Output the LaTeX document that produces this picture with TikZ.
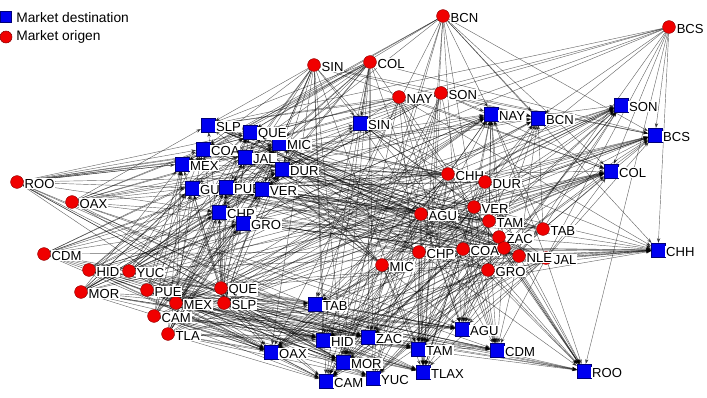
\documentclass[tikz,border=0pt]{standalone}
\usepackage{fontspec}
\setmainfont{Liberation Sans}
\usepackage{tikz}
\usetikzlibrary{arrows.meta,backgrounds}
\definecolor{mktred}{HTML}{F00000}
\definecolor{mktblue}{HTML}{0000F0}

\begin{document}
\begin{tikzpicture}[
  x=0.025cm,y=-0.025cm,
  lbl/.style={fill=white,inner sep=0.6pt,font=\fontsize{9.3}{10}\selectfont,yshift=-1.2pt},
  org/.style={circle,draw=mktred!60!black,line width=0.3pt,fill=mktred,minimum size=0.32cm,inner sep=0pt,label={[lbl]east:#1}},
  orgdot/.style={circle,draw=mktred!60!black,line width=0.3pt,fill=mktred,minimum size=0.32cm,inner sep=0pt},
  dst/.style={draw=mktblue!50!black,line width=0.3pt,fill=mktblue,minimum size=0.34cm,inner sep=0pt,label={[lbl]east:#1}},
  link/.style={draw=black,line width=0.3pt,opacity=0.6,-{Stealth[length=3.5pt,width=2.4pt]}},
  key/.style={font=\fontsize{9.8}{11}\selectfont,anchor=west,inner sep=0pt}
]
\useasboundingbox (0,0) rectangle (707,397);

% legend
\node[draw=mktblue!50!black,fill=mktblue,minimum size=0.28cm,inner sep=0pt] (keydst) at (6,17) {};
\node[key] (keydsttxt) at (16,18) {Market destination};
\node[circle,draw=mktred!60!black,fill=mktred,minimum size=0.3cm,inner sep=0pt] (keyorg) at (6,37) {};
\node[key] (keyorgtxt) at (16,37) {Market origen};

% destinations
\node[dst=MIC] (dMIC) at (279,143) {};
\node[dst=QUE] (dQUE) at (250,132) {};
\node[dst=SLP] (dSLP) at (208,125) {};
\node[dst=COA] (dCOA) at (203,149) {};
\node[dst=JAL] (dJAL) at (245,157) {};
\node[dst=MEX] (dMEX) at (182,164) {};
\node[dst=DUR] (dDUR) at (282,169) {};
\node[dst=GUA] (dGUA) at (192,188) {};
\node[dst=PUE] (dPUE) at (226,187) {};
\node[dst=VER] (dVER) at (262,189) {};
\node[dst=CHP] (dCHP) at (219,212) {};
\node[dst=GRO] (dGRO) at (243,223) {};
\node[dst=SIN] (dSIN) at (360,123) {};
\node[dst=NAY] (dNAY) at (491,114) {};
\node[dst=BCN] (dBCN) at (538,118) {};
\node[dst=SON] (dSON) at (621,105) {};
\node[dst=BCS] (dBCS) at (655,135) {};
\node[dst=COL] (dCOL) at (611,171) {};
\node[dst=CHH] (dCHH) at (658,250) {};
\node[dst=TAB] (dTAB) at (315,304) {};
\node[dst=OAX] (dOAX) at (271,352) {};
\node[dst=HID] (dHID) at (323,340) {};
\node[dst=ZAC] (dZAC) at (368,337) {};
\node[dst=MOR] (dMOR) at (343,362) {};
\node[dst=CAM] (dCAM) at (326,381) {};
\node[dst=YUC] (dYUC) at (373,378) {};
\node[dst=AGU] (dAGU) at (462,329) {};
\node[dst=TAM] (dTAM) at (418,349) {};
\node[dst=CDM] (dCDM) at (497,350) {};
\node[dst=TLAX] (dTLAX) at (423,372) {};
\node[dst=ROO] (dROO) at (584,371) {};

% origins
\node[org=BCN] (oBCN) at (443,16) {};
\node[org=BCS] (oBCS) at (669,27) {};
\node[org=SIN] (oSIN) at (314,65) {};
\node[org=COL] (oCOL) at (370,62) {};
\node[org=NAY] (oNAY) at (399,97) {};
\node[org=SON] (oSON) at (441,93) {};
\node[org=CHH] (oCHH) at (448,174) {};
\node[org=DUR] (oDUR) at (485,182) {};
\node[org=VER] (oVER) at (474,207) {};
\node[org=AGU] (oAGU) at (421,214) {};
\node[org=TAM] (oTAM) at (489,221) {};
\node[org=TAB] (oTAB) at (543,229) {};
\node[org=ZAC] (oZAC) at (499,237) {};
\node[org=COA] (oCOA) at (463,249) {};
\node[orgdot] (oGUA) at (504,248) {};
\node[org=JAL] (oJAL) at (546,258) {};
\node[org=NLE] (oNLE) at (519,256) {};
\node[org=GRO] (oGRO) at (488,270) {};
\node[org=CHP] (oCHP) at (419,252) {};
\node[org=MIC] (oMIC) at (382,265) {};
\node[org=ROO] (oROO) at (17,182) {};
\node[org=OAX] (oOAX) at (72,202) {};
\node[org=CDM] (oCDM) at (44,254) {};
\node[org=HID] (oHID) at (89,270) {};
\node[org=YUC] (oYUC) at (129,271) {};
\node[org=MOR] (oMOR) at (81,292) {};
\node[org=MEX] (oMEX) at (176,303) {};
\node[org=PUE] (oPUE) at (147,290) {};
\node[org=CAM] (oCAM) at (154,316) {};
\node[org=TLA] (oTLA) at (168,334) {};
\node[org=QUE] (oQUE) at (221,288) {};
\node[org=SLP] (oSLP) at (224,303) {};

% trade links
\pgfmathsetseed{4711}
\begin{pgfonlayer}{background}
\foreach \o in {BCN,BCS,SIN,COL,NAY,SON,CHH,DUR,VER,AGU,TAM,TAB,ZAC,COA,GUA,JAL,NLE,GRO,CHP,MIC,ROO,OAX,CDM,HID,YUC,MOR,MEX,PUE,CAM,TLA,QUE,SLP}{
  \foreach \d in {MIC,QUE,SLP,COA,JAL,MEX,DUR,GUA,PUE,VER,CHP,GRO,SIN,NAY,BCN,SON,BCS,COL,CHH,TAB,OAX,HID,ZAC,MOR,CAM,YUC,AGU,TAM,CDM,TLAX,ROO}{
    \pgfmathparse{rnd}
    \ifdim\pgfmathresult pt<0.58pt
      \draw[link] (o\o) -- (d\d);
    \fi
  }
}
\end{pgfonlayer}
\end{tikzpicture}
\end{document}
